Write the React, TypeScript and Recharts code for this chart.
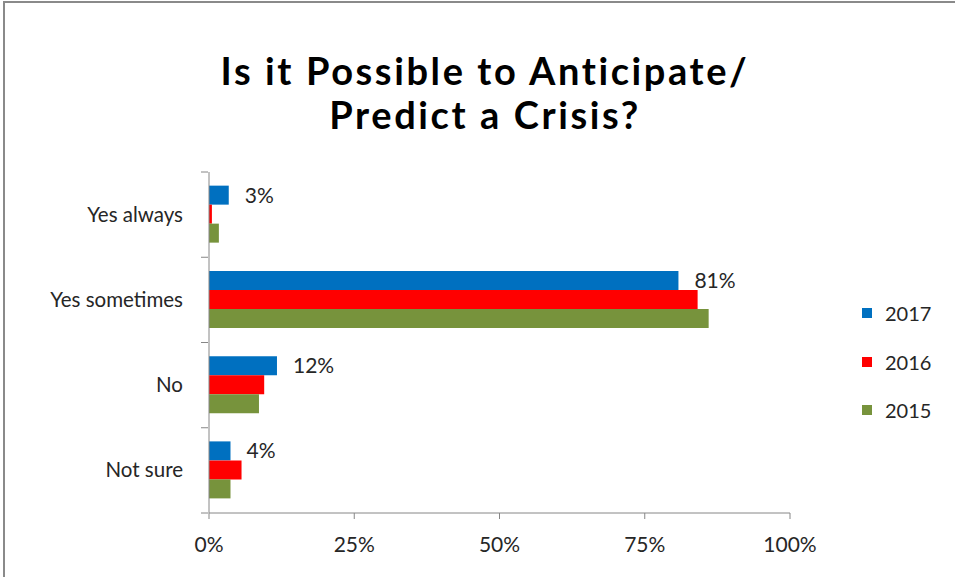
import { BarChart, Bar, XAxis, YAxis, LabelList, Legend } from 'recharts'

const categories = ['Yes always', 'Yes sometimes', 'No', 'Not sure']
const values2017 = [3.4, 80.8, 11.7, 3.7]
const values2016 = [0.5, 84.1, 9.5, 5.6]
const values2015 = [1.7, 86.0, 8.6, 3.7]
const xTicks = [0, 25, 50, 75, 100]
const titleLines = ['Is it Possible to Anticipate/', 'Predict a Crisis?']

const SERIES = [
  { key: 'y2017', name: '2017', color: '#0070C0' },
  { key: 'y2016', name: '2016', color: '#FF0000' },
  { key: 'y2015', name: '2015', color: '#77933C' },
]

const FONT = 'Lato, "Open Sans", sans-serif'
const TEXT = '#262626'
const AXIS = '#868686'

const data = categories.map((name, i) => ({
  name,
  y2017: values2017[i],
  y2016: values2016[i],
  y2015: values2015[i],
}))

// eslint-disable-next-line @typescript-eslint/no-explicit-any
function CategoryTick(props: any) {
  const { x, y, payload, index } = props
  const band = 85.25
  return (
    <g>
      <line x1={x + 24} x2={x + 31} y1={y - band / 2} y2={y - band / 2} stroke={AXIS} />
      {index === categories.length - 1 && (
        <line x1={x + 24} x2={x + 31} y1={y + band / 2} y2={y + band / 2} stroke={AXIS} />
      )}
      <text x={x + 6} y={y} dy={7} textAnchor="end" fontSize={20.5} fill={TEXT} fontFamily={FONT}>
        {payload.value}
      </text>
    </g>
  )
}

function LegendBox() {
  return (
    <div style={{ fontFamily: FONT, fontSize: 20, color: TEXT }}>
      {SERIES.map((s) => (
        <div key={s.key} style={{ display: 'flex', alignItems: 'center', height: 48.5 }}>
          <span style={{ width: 10, height: 10, background: s.color, marginRight: 13 }} />
          {s.name}
        </div>
      ))}
    </div>
  )
}

export default function App() {
  return (
    <div
      style={{
        position: 'absolute',
        left: 0,
        top: 0,
        width: 955,
        height: 577,
        background: 'white',
        overflow: 'hidden',
      }}
    >
      <div
        style={{
          position: 'absolute',
          left: 3,
          top: 1,
          width: 980,
          height: 600,
          borderLeft: '2px solid #8a8a8a',
          borderTop: '2px solid #8a8a8a',
        }}
      />
      {titleLines.map((line, i) => (
        <div
          key={line}
          style={{
            position: 'absolute',
            left: 0,
            top: 50 + i * 44,
            width: 970,
            height: 40,
            textAlign: 'center',
            fontFamily: FONT,
            fontWeight: 700,
            fontSize: 38,
            letterSpacing: 2.6,
            lineHeight: '40px',
            color: '#000',
          }}
        >
          {line}
        </div>
      ))}
      <div style={{ position: 'absolute', left: 0, top: 0 }}>
        <BarChart
          width={955}
          height={577}
          data={data}
          layout="vertical"
          margin={{ top: 172, right: 75, bottom: 0, left: 0 }}
          barCategoryGap="16%"
          barGap={0}
        >
          <XAxis
            type="number"
            domain={[0, 100]}
            ticks={xTicks}
            tickFormatter={(v: number) => `${v}%`}
            tick={{ fill: TEXT, fontSize: 21, fontFamily: FONT }}
            axisLine={{ stroke: AXIS }}
            tickLine={{ stroke: AXIS }}
            tickSize={6}
            tickMargin={18}
            height={64}
          />
          <YAxis
            type="category"
            dataKey="name"
            width={209}
            axisLine={{ stroke: AXIS }}
            tickLine={false}
            tick={<CategoryTick />}
            tickMargin={26}
          />
          <Legend
            layout="vertical"
            align="right"
            verticalAlign="top"
            content={<LegendBox />}
            wrapperStyle={{ left: 862, top: 289, width: 90 }}
          />
          {SERIES.map((s) => (
            <Bar key={s.key} dataKey={s.key} name={s.name} fill={s.color} isAnimationActive={false}>
              {s.key === 'y2017' && (
                <LabelList
                  dataKey={s.key}
                  position="right"
                  offset={16}
                  formatter={(v: number) => `${Math.round(v)}%`}
                  style={{ fill: TEXT, fontSize: 21, fontFamily: FONT }}
                />
              )}
            </Bar>
          ))}
        </BarChart>
      </div>
    </div>
  )
}
